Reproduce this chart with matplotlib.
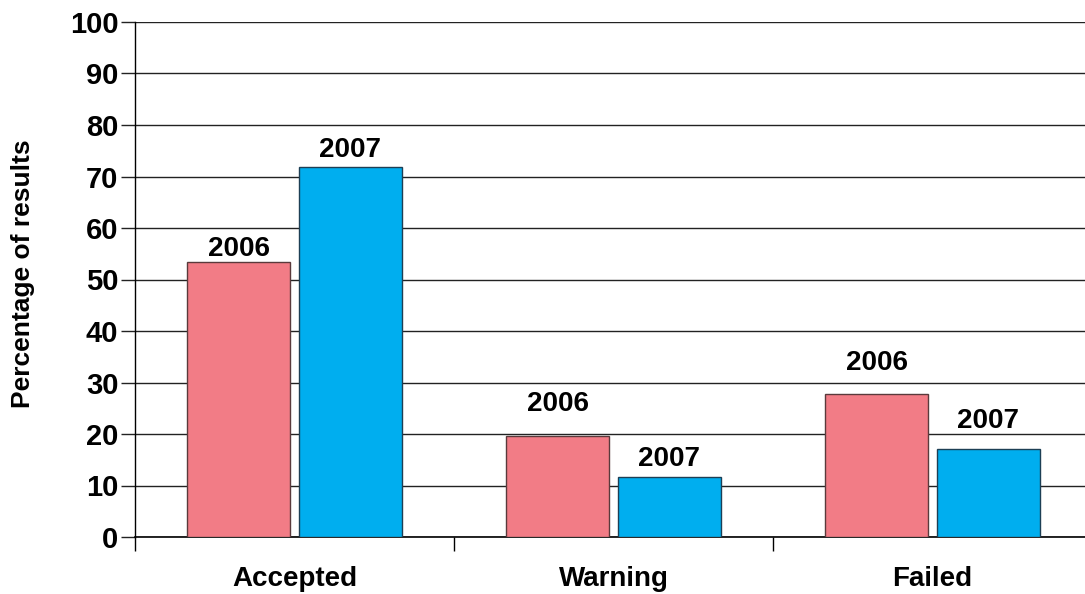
import matplotlib.pyplot as plt
import numpy as np

plt.rcParams['font.family'] = ['Liberation Sans', 'DejaVu Sans']

categories = ['Accepted', 'Warning', 'Failed']
years = ['2006', '2007']
pct_2006 = [53.4, 19.7, 27.7]
pct_2007 = [71.8, 11.6, 17.1]
yticks = list(range(0, 101, 10))

# gap (in points) between each bar top and its year label
gap_2006 = [0, 13, 13]
gap_2007 = [3, 4, 11]

fig = plt.figure(figsize=(10.85, 5.94), dpi=100)
ax = fig.add_axes([135 / 1085, 57 / 594, 957 / 1085, 515 / 594])

x = np.arange(len(categories))
w = 0.323
off = 0.175
b1 = ax.bar(x - off, pct_2006, w, color='#F27C86', edgecolor='#5a3a3c', linewidth=1, zorder=3)
b2 = ax.bar(x + off, pct_2007, w, color='#00AEEF', edgecolor='#1d3f55', linewidth=1, zorder=3)

for bars, gaps, yr in [(b1, gap_2006, years[0]), (b2, gap_2007, years[1])]:
    for r, g in zip(bars, gaps):
        ax.annotate(yr, (r.get_x() + r.get_width() / 2, r.get_height()),
                    xytext=(0, g), textcoords='offset points',
                    ha='center', va='bottom', fontsize=20, fontweight='bold')

ax.set_xlim(-0.5, 2.5)
ax.set_ylim(0, 100)
ax.set_yticks(yticks)
ax.set_yticklabels([str(t) for t in yticks], fontsize=21, fontweight='bold')
ax.tick_params(axis='y', length=10, width=1, pad=2, color='#222222')

# category boundaries as x ticks, names as minor ticks
ax.set_xticks([-0.5, 0.5, 1.5])
ax.set_xticklabels([])
ax.tick_params(axis='x', which='major', length=10, width=1, direction='out', color='black')
ax.set_xticks(x, minor=True)
ax.set_xticklabels(categories, minor=True, fontsize=20, fontweight='bold')
ax.tick_params(axis='x', which='minor', length=0, pad=21)

ax.grid(axis='y', color='#222222', linewidth=1, zorder=0)
ax.set_axisbelow(True)
for s in ['top', 'right']:
    ax.spines[s].set_visible(False)
ax.spines['left'].set_linewidth(1)
ax.spines['bottom'].set_linewidth(1.2)

fig.text(0.021, 1 - 274 / 594, 'Percentage of results', rotation=90, va='center', ha='center',
         fontsize=19, fontweight='bold')

fig.savefig('out.png', dpi=100)
